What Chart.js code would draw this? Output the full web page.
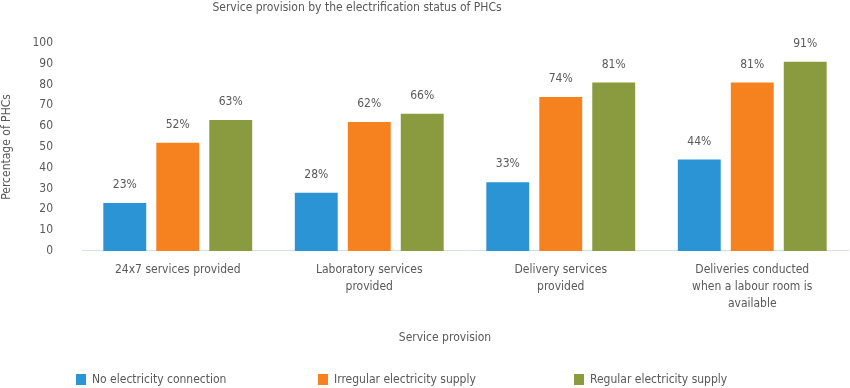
<!DOCTYPE html>
<html>
<head>
<meta charset="utf-8">
<script src="https://cdn.jsdelivr.net/npm/chart.js@4/dist/chart.umd.min.js"></script>
<style>
html,body{margin:0;padding:0;background:#fff;}
#wrap{width:850px;height:388px;position:relative;}
</style>
</head>
<body>
<div id="wrap"><canvas id="c" width="850" height="388"></canvas></div>
<script>
const chartTitle = 'Service provision by the electrification status of PHCs';
const xTitle = 'Service provision';
const yTitle = 'Percentage of PHCs';
const categories = [
  ['24x7 services provided'],
  ['Laboratory services', 'provided'],
  ['Delivery services', 'provided'],
  ['Deliveries conducted', 'when a labour room is', 'available']
];
const seriesNames = ['No electricity connection', 'Irregular electricity supply', 'Regular electricity supply'];
const noElectricity = [23, 28, 33, 44];
const irregularSupply = [52, 62, 74, 81];
const regularSupply = [63, 66, 81, 91];
const yTicks = [0, 10, 20, 30, 40, 50, 60, 70, 80, 90, 100];
const colors = ['#2B94D4', '#F5821F', '#8A9A3E'];

const FONT = "'DejaVu Sans Condensed', 'Liberation Sans Narrow', sans-serif";
const TXT = '#595959';

const extras = {
  id: 'extras',
  afterDraw(chart) {
    const ctx = chart.ctx;
    ctx.save();
    ctx.font = '12px ' + FONT;
    ctx.fillStyle = TXT;
    ctx.textAlign = 'center';
    ctx.textBaseline = 'middle';
    chart.data.datasets.forEach((ds, di) => {
      chart.getDatasetMeta(di).data.forEach((bar, i) => {
        ctx.fillText(ds.data[i] + '%', bar.x, bar.y - 18);
      });
    });
    ctx.fillText(chartTitle, 357, 8);
    ctx.fillText(xTitle, 445, 338);
    ctx.textAlign = 'left';
    const legendX = [76, 318, 574];
    seriesNames.forEach((n, i) => {
      ctx.fillStyle = colors[i];
      ctx.fillRect(legendX[i], 374, 10, 11);
      ctx.fillStyle = TXT;
      ctx.fillText(n, legendX[i] + 16, 380);
    });
    ctx.restore();
  }
};

new Chart(document.getElementById('c'), {
  type: 'bar',
  data: {
    labels: categories,
    datasets: [
      { label: seriesNames[0], data: noElectricity, backgroundColor: colors[0] },
      { label: seriesNames[1], data: irregularSupply, backgroundColor: colors[1] },
      { label: seriesNames[2], data: regularSupply, backgroundColor: colors[2] }
    ]
  },
  options: {
    responsive: false,
    animation: false,
    layout: { padding: { top: 43, right: 2, left: 0, bottom: 66 } },
    datasets: { bar: { categoryPercentage: 0.83, barPercentage: 0.81 } },
    plugins: {
      legend: { display: false },
      title: { display: false },
      tooltip: { enabled: false }
    },
    scales: {
      x: {
        grid: { display: false, drawTicks: false },
        border: { display: true, color: '#D6DEE8', width: 1 },
        ticks: { color: TXT, font: { family: FONT, size: 12, lineHeight: 1.42 }, padding: 10, maxRotation: 0 },
        title: { display: false }
      },
      y: {
        min: 0, max: 100,
        afterBuildTicks(scale) { scale.ticks = yTicks.map(v => ({ value: v })); },
        afterFit(scale) { scale.width = 82; },
        grid: { display: false, drawTicks: false },
        border: { display: false },
        ticks: { color: TXT, font: { family: FONT, size: 12 }, padding: 29 },
        title: { display: true, text: yTitle, color: TXT, font: { family: FONT, size: 12 }, padding: { top: 0, bottom: 0 } }
      }
    }
  },
  plugins: [extras]
});
</script>
</body>
</html>
